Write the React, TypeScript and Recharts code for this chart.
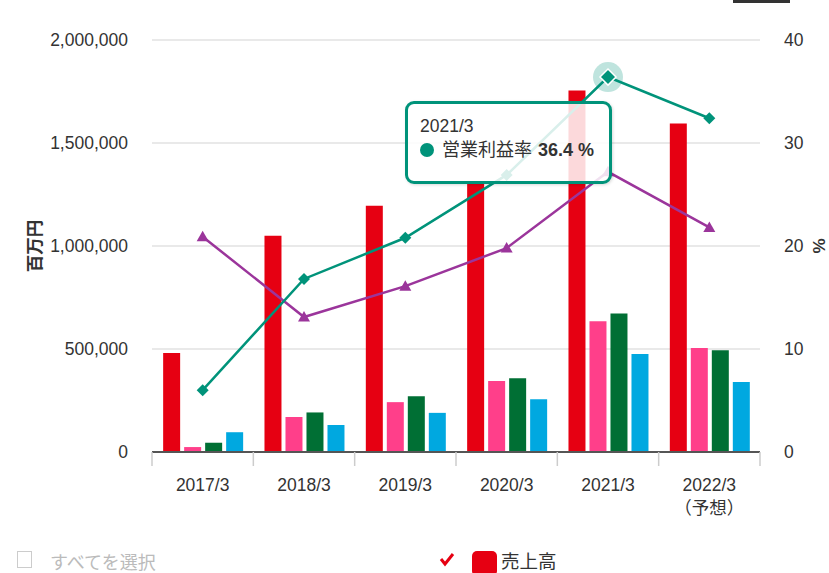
import React from 'react';
import {
  ComposedChart,
  Bar,
  Line,
  XAxis,
  YAxis,
  CartesianGrid,
  Tooltip,
  Label,
} from 'recharts';

const FONT = '"Liberation Sans", Arial, "Noto Sans CJK JP", sans-serif';

const categories = ['2017/3', '2018/3', '2019/3', '2020/3', '2021/3', '2022/3'];
const tickLabels = [['2017/3'], ['2018/3'], ['2019/3'], ['2020/3'], ['2021/3'], ['2022/3', '（予想）']];

// 百万円
const sales = [480000, 1050000, 1195000, 1310000, 1755000, 1595000];
const operatingProfit = [24000, 170000, 242000, 345000, 635000, 505000];
const ordinaryProfit = [45000, 192000, 271000, 358000, 672000, 494000];
const netProfit = [96000, 131000, 190000, 256000, 476000, 340000];

// %
const operatingMargin = [6.0, 16.8, 20.8, 26.9, 36.4, 32.4];
const netMargin = [20.9, 13.1, 16.1, 19.8, 27.2, 21.8];

const leftTicks = [0, 500000, 1000000, 1500000, 2000000];
const rightTicks = [0, 10, 20, 30, 40];

const PLOT_LEFT = 152;
const PLOT_RIGHT = 760;
const TEAL = '#00937A';
const PURPLE = '#9B359B';

const data = categories.map((cat, i) => ({
  cat,
  sales: sales[i],
  op: operatingProfit[i],
  ord: ordinaryProfit[i],
  net: netProfit[i],
  opm: operatingMargin[i],
  npm: netMargin[i],
}));

const XTick = (props: any) => {
  const { x, y, index } = props;
  const band = (PLOT_RIGHT - PLOT_LEFT) / categories.length;
  const lines = tickLabels[index] || [props.payload.value];
  return (
    <g>
      <line x1={x - band / 2} x2={x - band / 2} y1={y} y2={y + 14} stroke="#ccc" strokeWidth={1.5} />
      {index === categories.length - 1 && (
        <line x1={x + band / 2} x2={x + band / 2} y1={y} y2={y + 14} stroke="#ccc" strokeWidth={1.5} />
      )}
      {lines.map((t: string, i: number) => (
        <text key={i} x={x} y={y + 39 + i * 23} textAnchor="middle" fontSize={17.5} fill="#333" fontFamily={FONT}>
          {t}
        </text>
      ))}
    </g>
  );
};

const diamond = (props: any) => {
  const { cx, cy, index } = props;
  const r = 6;
  return (
    <path key={`dm-${index}`} d={`M${cx} ${cy - r}L${cx + r} ${cy}L${cx} ${cy + r}L${cx - r} ${cy}Z`} fill={TEAL} />
  );
};

const activeDiamond = (props: any) => {
  const { cx, cy } = props;
  const r = 8;
  return (
    <g>
      <circle cx={cx} cy={cy} r={15} fill={TEAL} fillOpacity={0.25} />
      <path d={`M${cx} ${cy - r}L${cx + r} ${cy}L${cx} ${cy + r}L${cx - r} ${cy}Z`} fill={TEAL} stroke="#fff" strokeWidth={1.5} />
    </g>
  );
};

const triangle = (props: any) => {
  const { cx, cy, index } = props;
  return (
    <path key={`tr-${index}`} d={`M${cx} ${cy - 6}L${cx + 6} ${cy + 4.5}L${cx - 6} ${cy + 4.5}Z`} fill={PURPLE} />
  );
};

const TipContent = ({ active, payload }: any) => {
  if (!active || !payload) return null;
  const item = payload.find((p: any) => p.dataKey === 'opm');
  if (!item) return null;
  return (
    <div
      style={{
        boxSizing: 'border-box',
        width: 207,
        height: 83,
        border: `3px solid ${TEAL}`,
        borderRadius: 9,
        background: 'rgba(255,255,255,0.85)',
        boxShadow: '1px 1px 3px rgba(0,0,0,0.15)',
        padding: '11px 0 0 12px',
        fontFamily: FONT,
        color: '#333',
      }}
    >
      <div style={{ fontSize: 17.5, lineHeight: '23px' }}>{item.payload.cat}</div>
      <div style={{ fontSize: 18, lineHeight: '24px', display: 'flex', alignItems: 'center' }}>
        <span style={{ display: 'inline-block', width: 14, height: 14, borderRadius: '50%', background: TEAL, marginRight: 8 }} />
        <span>{item.name}</span>
        <b style={{ marginLeft: 6 }}>{item.value.toFixed(1)} %</b>
      </div>
    </div>
  );
};

export default function App() {
  return (
    <div
      style={{
        position: 'fixed',
        left: 0,
        top: 0,
        width: 829,
        height: 573,
        background: '#fff',
        overflow: 'hidden',
        fontFamily: FONT,
      }}
    >
      <div style={{ position: 'absolute', left: 733, top: 0, width: 57, height: 3, background: '#333' }} />
      <ComposedChart
        width={829}
        height={530}
        data={data}
        margin={{ top: 40, right: 0, bottom: 0, left: 0 }}
        barCategoryGap="11%"
        barGap={4}
      >
        <CartesianGrid yAxisId="left" vertical={false} stroke="#d4d4d4" strokeWidth={1.2} />
        <XAxis
          dataKey="cat"
          xAxisId={0}
          interval={0}
          height={78}
          tickLine={false}
          tickSize={0}
          tickMargin={0}
          axisLine={{ stroke: '#555', strokeWidth: 2 }}
          tick={<XTick />}
        />
        <YAxis
          yAxisId="left"
          width={PLOT_LEFT}
          domain={[0, 2000000]}
          ticks={leftTicks}
          axisLine={false}
          tickLine={false}
          tickMargin={18}
          tick={{ fontSize: 17.5, fill: '#333', fontFamily: FONT }}
          tickFormatter={(v: number) => v.toLocaleString('en-US')}
        >
          <Label
            content={({ viewBox }: any) => {
              const cy = viewBox.y + viewBox.height / 2;
              return (
                <text
                  x={35}
                  y={cy}
                  transform={`rotate(-90, 35, ${cy})`}
                  textAnchor="middle"
                  dominantBaseline="central"
                  fontSize={17.5}
                  fontWeight="bold"
                  fill="#333"
                  fontFamily={FONT}
                >
                  百万円
                </text>
              );
            }}
          />
        </YAxis>
        <YAxis
          yAxisId="right"
          orientation="right"
          width={829 - PLOT_RIGHT}
          domain={[0, 40]}
          ticks={rightTicks}
          axisLine={false}
          tickLine={false}
          tickMargin={18}
          tick={{ fontSize: 17.5, fill: '#333', fontFamily: FONT, textAnchor: 'start' }}
        >
          <Label
            content={({ viewBox }: any) => {
              const cy = viewBox.y + viewBox.height / 2;
              const cx = viewBox.x + 59;
              return (
                <text
                  x={cx}
                  y={cy}
                  transform={`rotate(-90, ${cx}, ${cy})`}
                  textAnchor="middle"
                  dominantBaseline="central"
                  fontSize={17}
                  fontWeight="bold"
                  fill="#333"
                  fontFamily={FONT}
                >
                  %
                </text>
              );
            }}
          />
        </YAxis>
        <Bar yAxisId="left" dataKey="sales" name="売上高" fill="#E60012" isAnimationActive={false} />
        <Bar yAxisId="left" dataKey="op" name="営業利益" fill="#FF3F8A" isAnimationActive={false} />
        <Bar yAxisId="left" dataKey="ord" name="経常利益" fill="#006F34" isAnimationActive={false} />
        <Bar yAxisId="left" dataKey="net" name="当期純利益" fill="#00A8E0" isAnimationActive={false} />
        <Line
          yAxisId="right"
          dataKey="npm"
          name="当期純利益率"
          stroke={PURPLE}
          strokeWidth={2.5}
          dot={triangle}
          activeDot={false}
          isAnimationActive={false}
        />
        <Line
          yAxisId="right"
          dataKey="opm"
          name="営業利益率"
          stroke={TEAL}
          strokeWidth={2.5}
          dot={diamond}
          activeDot={activeDiamond}
          isAnimationActive={false}
        />
        <Tooltip
          active
          defaultIndex={4}
          cursor={false}
          position={{ x: 405, y: 101 }}
          content={<TipContent />}
          isAnimationActive={false}
          wrapperStyle={{ outline: 'none' }}
        />
      </ComposedChart>

      <div
        style={{
          position: 'absolute',
          left: 17,
          top: 551,
          width: 15,
          height: 17,
          border: '1px solid #ccc',
          boxSizing: 'border-box',
        }}
      />
      <div style={{ position: 'absolute', left: 50, top: 551, fontSize: 18, color: '#bbb', lineHeight: '24px', fontFamily: FONT }}>
        すべてを選択
      </div>
      <svg style={{ position: 'absolute', left: 438, top: 552 }} width={18} height={16}>
        <polyline points="3,7 7,12 15,2" fill="none" stroke="#E60012" strokeWidth={3} />
      </svg>
      <div
        style={{
          position: 'absolute',
          left: 472,
          top: 551,
          width: 25,
          height: 25,
          borderRadius: 5,
          background: '#E60012',
        }}
      />
      <div style={{ position: 'absolute', left: 501, top: 550, fontSize: 18.5, color: '#333', lineHeight: '24px', fontFamily: FONT }}>
        売上高
      </div>
    </div>
  );
}
